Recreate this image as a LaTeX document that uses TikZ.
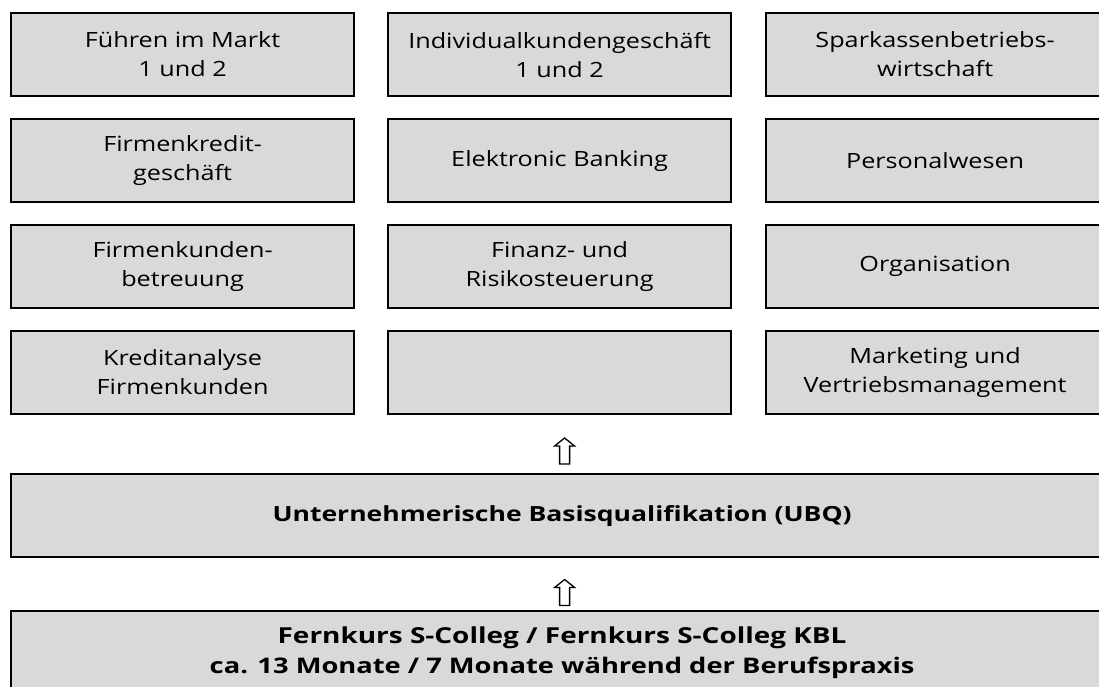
\documentclass[tikz,border=0pt]{standalone}
\usepackage{fontspec}
\setmainfont{Open Sans}[FakeStretch=1.2]
\newfontfamily\boldfont{Open Sans Bold}[FakeStretch=1.27]
\usetikzlibrary{calc}
\definecolor{boxgray}{HTML}{D9D9D9}
\tikzset{
  cell/.style={draw=black, line width=2.2pt, fill=boxgray, anchor=north west,
    minimum width=343pt, minimum height=83pt, inner sep=0pt, align=center,
    font=\fontsize{21}{29}\selectfont},
  lastcol/.style={cell, minimum width=338pt},
  wide/.style={cell, minimum width=1102pt, font=\boldfont\fontsize{21.5}{30}\selectfont},
  uparrow/.style={draw=black, line width=1.3pt, fill=white, line join=miter},
}
\begin{document}
\begin{tikzpicture}[x=1pt,y=-1pt]
\useasboundingbox (0,0) rectangle (1099,686);
\clip (0,0) rectangle (1099,686);
% row 1
\node[cell] (a1) at (10,12) {Führen im Markt\\1 und 2};
\node[cell] (b1) at (387,12) {Individualkundengeschäft\\1 und 2};
\node[lastcol] (c1) at (765,12) {Sparkassenbetriebs-\\wirtschaft};
% row 2
\node[cell] (a2) at (10,118) {Firmenkredit-\\geschäft};
\node[cell] (b2) at (387,118) {Elektronic Banking};
\node[lastcol] (c2) at (765,118) {Personalwesen};
% row 3
\node[cell] (a3) at (10,224) {Firmenkunden-\\betreuung};
\node[cell] (b3) at (387,224) {Finanz- und\\Risikosteuerung};
\node[lastcol] (c3) at (765,224) {Organisation};
% row 4
\node[cell] (a4) at (10,330) {Kreditanalyse\\Firmenkunden};
\node[cell] (b4) at (387,330) {};
\node[lastcol] (c4) at (765,330) {Marketing und\\Vertriebsmanagement};
% UBQ
\node[wide] (ubq) at (10,473) {\fontsize{20.9}{30}\selectfont Unternehmerische Basisqualifikation (UBQ)};
% bottom
\node[wide] (fern) at (10,610) {{\fontsize{22}{30}\selectfont Fernkurs S-Colleg / Fernkurs S-Colleg KBL}\\ca. 13 Monate / 7 Monate während der Berufspraxis};
% arrows
\coordinate (u1) at ($(ubq.north)+(2.5,-22)$);
\coordinate (u2) at ($(fern.north)+(2.5,-17.5)$);
\foreach \c in {u1,u2}{
  \draw[uparrow] (\c) ++(-5,13) -- ++(0,-18) -- ++(-5,0) -- ++(10,-8) -- ++(10,8) -- ++(-5,0) -- ++(0,18) -- cycle;
}
\end{tikzpicture}
\end{document}
